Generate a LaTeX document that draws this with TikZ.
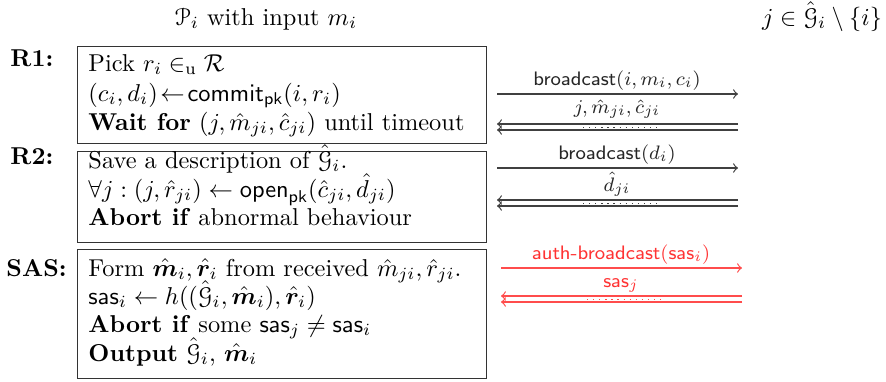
\documentclass[tikz,border=0pt]{standalone}
\usepackage{amsmath,amssymb,bm}
\usepackage[mathscr]{eucal}
\begin{document}
\begin{tikzpicture}[x=0.41pt,y=-0.41pt,
  box/.style={draw=black!80,line width=0.6pt,rectangle,anchor=north west,inner sep=0pt,minimum width=167.69pt},
  txt/.style={anchor=base west,inner sep=0pt,font=\normalsize},
  lab/.style={anchor=base west,inner sep=0pt,font=\bfseries},
  msg/.style={draw=black!75,line width=0.5pt},
  rmsg/.style={draw=red!70,line width=0.5pt},
  mlab/.style={anchor=base,inner sep=0pt,font=\footnotesize,text=black!85},
  rlab/.style={anchor=base,inner sep=0pt,font=\footnotesize,text=red!80},
  dots/.style={dotted,line width=0.4pt}]
\useasboundingbox (0,0) rectangle (886,381);
% headers
\node[anchor=base,inner sep=0pt] (title) at (266,25) {$\mathscr{P}_i$ with input $m_i$};
\node[anchor=base,inner sep=0pt] (peer) at (822,25) {$j\in\hat{\mathscr{G}}_i\setminus\{i\}$};
% labels
\node[lab] (r1) at (10,66) {R1:};
\node[lab] (r2) at (10,164) {R2:};
\node[lab] (sas) at (6,276) {SAS:};
% boxes
\node[box,minimum height=39.77pt] (b1) at (77,46) {};
\node[box,minimum height=37.31pt] (b2) at (77,151) {};
\node[box,minimum height=52.89pt] (b3) at (77,249) {};
% box 1 text
\node[txt] (t11) at (88,71) {Pick $r_i\in_{\mathrm{u}}\mathcal{R}$};
\node[txt] (t12) at (88,101) {$(c_i,d_i)\!\leftarrow\!\mathsf{commit}_{\mathsf{pk}}(i,r_i)$};
\node[txt] (t13) at (88,130) {\textbf{Wait for} $(j,\hat m_{ji},\hat c_{ji})$ until timeout};
% box 2 text
\node[txt] (t21) at (88,168) {Save a description of $\hat{\mathscr{G}}_i$.};
\node[txt] (t22) at (88,197) {$\forall j:(j,\hat r_{ji})\leftarrow\mathsf{open}_{\mathsf{pk}}(\hat c_{ji},\hat d_{ji})$};
\node[txt] (t23) at (88,225) {\textbf{Abort if} abnormal behaviour};
% box 3 text
\node[txt] (t31) at (88,276) {Form $\hat{\bm m}_i,\hat{\bm r}_i$ from received $\hat m_{ji},\hat r_{ji}$.};
\node[txt] (t32) at (88,304) {$\mathsf{sas}_i\leftarrow h((\hat{\mathscr{G}}_i,\hat{\bm m}_i),\hat{\bm r}_i)$};
\node[txt] (t33) at (88,332) {\textbf{Abort if} some $\mathsf{sas}_j\neq\mathsf{sas}_i$};
\node[txt] (t34) at (88,361) {\textbf{Output} $\hat{\mathscr{G}}_i$, $\hat{\bm m}_i$};
% message coordinates
\coordinate (a1l) at (497,94);  \coordinate (a1r) at (738,94);
\coordinate (d1al) at (497,124); \coordinate (d1ar) at (738,124);
\coordinate (d1bl) at (497,130); \coordinate (d1br) at (738,130);
\coordinate (o1l) at (583,127); \coordinate (o1r) at (657,127);
\coordinate (a2l) at (497,168); \coordinate (a2r) at (738,168);
\coordinate (d2al) at (497,200); \coordinate (d2ar) at (738,200);
\coordinate (d2bl) at (497,206); \coordinate (d2br) at (738,206);
\coordinate (o2l) at (583,203); \coordinate (o2r) at (657,203);
\coordinate (a3l) at (501,268); \coordinate (a3r) at (742,268);
\coordinate (d3al) at (501,296); \coordinate (d3ar) at (742,296);
\coordinate (d3bl) at (501,302); \coordinate (d3br) at (742,302);
\coordinate (o3l) at (587,299); \coordinate (o3r) at (662,299);
% R1 messages
\draw[msg,->] (a1l) -- (a1r);
\node[mlab] (m1) at (617,85) {\textsf{broadcast}$(i,m_i,c_i)$};
\draw[msg,->] (d1ar) -- (d1al);
\draw[msg,->] (d1br) -- (d1bl);
\draw[msg,dots] (o1l) -- (o1r);
\node[mlab] (m2) at (617,113) {$j,\hat m_{ji},\hat c_{ji}$};
% R2 messages
\draw[msg,->] (a2l) -- (a2r);
\node[mlab] (m3) at (617,159) {\textsf{broadcast}$(d_i)$};
\draw[msg,->] (d2ar) -- (d2al);
\draw[msg,->] (d2br) -- (d2bl);
\draw[msg,dots] (o2l) -- (o2r);
\node[mlab] (m4) at (617,191) {$\hat d_{ji}$};
% SAS messages
\draw[rmsg,->] (a3l) -- (a3r);
\node[rlab] (m5) at (621,259) {\textsf{auth-broadcast}$(\mathsf{sas}_i)$};
\draw[rmsg,->] (d3ar) -- (d3al);
\draw[rmsg,->] (d3br) -- (d3bl);
\draw[rmsg,dots] (o3l) -- (o3r);
\node[rlab] (m6) at (621,287) {$\mathsf{sas}_j$};
\end{tikzpicture}
\end{document}
